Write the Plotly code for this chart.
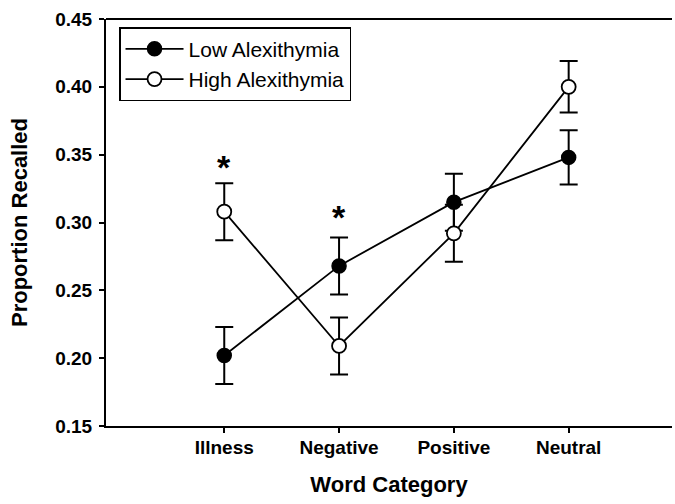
import plotly.graph_objects as go

categories = ["Illness", "Negative", "Positive", "Neutral"]
low_vals = [0.202, 0.268, 0.315, 0.348]
low_err = [0.021, 0.021, 0.021, 0.020]
high_vals = [0.308, 0.209, 0.292, 0.400]
high_err = [0.021, 0.021, 0.021, 0.019]
star_x = [0, 1]
star_y = [0.341, 0.304]
y_ticks = [0.15, 0.20, 0.25, 0.30, 0.35, 0.40, 0.45]

xs = list(range(len(categories)))
font = "Liberation Sans, Arial, sans-serif"

fig = go.Figure()
fig.add_trace(go.Scatter(
    x=xs, y=low_vals, name="Low Alexithymia", mode="lines+markers",
    line=dict(color="black", width=1.8),
    marker=dict(symbol="circle", size=14, color="black", line=dict(color="black", width=1.5)),
    error_y=dict(type="data", array=low_err, color="black", thickness=2, width=9),
))
fig.add_trace(go.Scatter(
    x=xs, y=high_vals, name="High Alexithymia", mode="lines+markers",
    line=dict(color="black", width=1.8),
    marker=dict(symbol="circle", size=14, color="white", line=dict(color="black", width=1.8)),
    error_y=dict(type="data", array=high_err, color="black", thickness=2, width=9),
))

for sx, sy in zip(star_x, star_y):
    fig.add_annotation(x=sx, y=sy, text="<b>*</b>", showarrow=False,
                       font=dict(size=34, color="black", family=font), yanchor="middle")

fig.add_shape(type="line", xref="paper", yref="paper", x0=0, x1=1, y0=1, y1=1,
              line=dict(color="black", width=2))

fig.update_layout(
    width=675, height=504,
    margin=dict(l=106, r=3, t=19, b=78),
    paper_bgcolor="white", plot_bgcolor="white",
    font=dict(family=font, color="black"),
    showlegend=True,
    legend=dict(x=0.023, y=0.98, xanchor="left", yanchor="top",
                bordercolor="black", borderwidth=1.5, bgcolor="white",
                font=dict(size=21, family=font), tracegroupgap=0,
                itemwidth=58),
    xaxis=dict(
        range=[-1.03, 3.9], tickmode="array", tickvals=xs,
        ticktext=["<b>%s</b>" % c for c in categories],
        showgrid=False, zeroline=False, showline=True, linecolor="black", linewidth=2,
        ticks="outside", ticklen=5, tickwidth=1.5, tickcolor="black",
        ticklabelstandoff=-2,
        tickfont=dict(size=19, family=font), automargin=False,
        title=dict(text="<b>Word Category</b>", font=dict(size=22, family=font), standoff=20),
    ),
    yaxis=dict(
        range=[0.15, 0.45], tickmode="array", tickvals=y_ticks,
        ticktext=["<b>%.2f</b>" % v for v in y_ticks],
        showgrid=False, zeroline=False, showline=True, linecolor="black", linewidth=2,
        ticks="outside", ticklen=5, tickwidth=1.5, tickcolor="black",
        ticklabelstandoff=3,
        tickfont=dict(size=19, family=font), automargin=False,
        title=dict(text="<b>Proportion Recalled</b>", font=dict(size=22, family=font), standoff=22),
    ),
)

fig.write_html("out.html", config={"displayModeBar": False},
               post_script="document.body.style.margin='0';document.body.style.overflow='hidden';")
